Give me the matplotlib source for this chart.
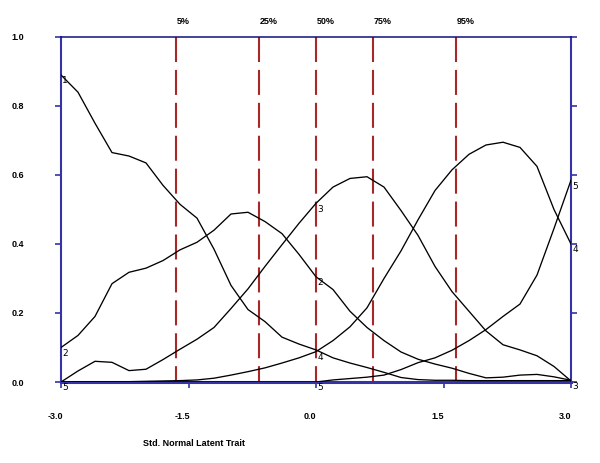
import matplotlib
matplotlib.use('Agg')
import matplotlib.pyplot as plt
import numpy as np
from matplotlib.transforms import ScaledTranslation

# ── data ──
theta = [-3.0, -2.8, -2.6, -2.4, -2.2, -2.0, -1.8, -1.6, -1.4, -1.2, -1.0,
         -0.8, -0.6, -0.4, -0.2, 0.0, 0.2, 0.4, 0.6, 0.8, 1.0,
         1.2, 1.4, 1.6, 1.8, 2.0, 2.2, 2.4, 2.6, 2.8, 3.0]

cat1 = [0.89, 0.84, 0.75, 0.665, 0.655, 0.635, 0.57, 0.515, 0.475, 0.385, 0.28,
        0.21, 0.175, 0.13, 0.11, 0.093, 0.07, 0.055, 0.042, 0.028, 0.013,
        0.007, 0.005, 0.005, 0.004, 0.004, 0.004, 0.004, 0.004, 0.004, 0.004]
cat2 = [0.10, 0.135, 0.19, 0.285, 0.318, 0.33, 0.352, 0.383, 0.405, 0.44, 0.487,
        0.492, 0.465, 0.43, 0.37, 0.305, 0.268, 0.205, 0.158, 0.12, 0.087,
        0.066, 0.052, 0.04, 0.025, 0.012, 0.014, 0.02, 0.022, 0.015, 0.005]
cat3 = [0.0, 0.032, 0.06, 0.057, 0.033, 0.037, 0.065, 0.095, 0.124, 0.158, 0.213,
        0.27, 0.335, 0.398, 0.46, 0.518, 0.565, 0.59, 0.595, 0.565, 0.497,
        0.425, 0.335, 0.262, 0.205, 0.148, 0.108, 0.093, 0.076, 0.045, 0.003]
cat4 = [0.0, 0.0, 0.0, 0.0, 0.001, 0.002, 0.003, 0.004, 0.006, 0.011, 0.02,
        0.03, 0.041, 0.055, 0.07, 0.088, 0.12, 0.16, 0.215, 0.30, 0.38,
        0.47, 0.555, 0.615, 0.66, 0.687, 0.695, 0.68, 0.625, 0.50, 0.40]
cat5 = [0.0, 0.0, 0.0, 0.0, 0.0, 0.0, 0.0, 0.0, 0.0, 0.0, 0.0,
        0.0, 0.0, 0.0, 0.0, 0.0, 0.006, 0.01, 0.014, 0.02, 0.036,
        0.056, 0.07, 0.092, 0.12, 0.152, 0.19, 0.226, 0.31, 0.445, 0.585]
cat_names = ['1', '2', '3', '4', '5']
# where each curve carries its number (only the visible ones)
label_at = [[-3.0], [-3.0, 0.0], [0.0, 3.0], [0.0, 3.0], [-3.0, 0.0, 3.0]]

quant_labels = ['5%', '25%', '50%', '75%', '95%']
quant_pos = [-1.645, -0.674, 0.0, 0.674, 1.645]

xticks = [-3.0, -1.5, 0.0, 1.5, 3.0]
xtick_labels = ['-3.0', '-1.5', '0.0', '1.5', '3.0']
yticks = [0.0, 0.2, 0.4, 0.6, 0.8, 1.0]
ytick_labels = ['0.0', '0.2', '0.4', '0.6', '0.8', '1.0']

BLUE = '#3434a8'
NAVY = '#10107e'
RED = '#a82828'
TICKFONT = dict(family='Liberation Sans', weight='bold', size=6.5)

fig = plt.figure(figsize=(6.0, 4.63), dpi=100, facecolor='white')
ax = fig.add_axes([61/600, 81/463, 510/600, 345/463])

# quantile markers
for q, lab in zip(quant_pos, quant_labels):
    ax.plot([q, q], [1.0, 0.0], color=RED, lw=1.5, dashes=(12, 3.8), zorder=1)
    ax.annotate(lab, xy=(q, 1.0), xycoords=('data', 'axes fraction'),
                xytext=(0.5, 11), textcoords='offset points',
                ha='left', va='center', **TICKFONT)

# category response curves
curves = [cat1, cat2, cat3, cat4, cat5]
for ys in curves:
    ax.plot(theta, ys, color='black', lw=0.95, zorder=3)

for name, ys, xs in zip(cat_names, curves, label_at):
    for xl in xs:
        yl = np.interp(xl, theta, ys)
        ax.annotate(name, xy=(xl, yl), xytext=(1, -1), textcoords='offset points',
                    ha='left', va='top', fontsize=6.5, family='DejaVu Sans',
                    annotation_clip=False, zorder=5)

ax.set_xlim(-3.0, 3.0)
ax.set_ylim(0.0, 1.0)

ax.spines['left'].set_color(BLUE)
ax.spines['left'].set_linewidth(1.5)
ax.spines['right'].set_color(BLUE)
ax.spines['right'].set_linewidth(1.5)
ax.spines['bottom'].set_color(BLUE)
ax.spines['bottom'].set_linewidth(2.2)
ax.spines['top'].set_color(NAVY)
ax.spines['top'].set_linewidth(1.1)

ax.set_xticks(xticks)
ax.set_xticklabels(xtick_labels, fontdict=TICKFONT)
ax.set_yticks(yticks)
ax.set_yticklabels(ytick_labels, fontdict=TICKFONT)
ax.tick_params(axis='x', direction='out', length=4.3, width=1.2, color=BLUE, pad=17)
ax.tick_params(axis='y', direction='out', length=4.3, width=1.2, color=BLUE, pad=22,
               right=True)
off = ScaledTranslation(-6/100, 0, fig.dpi_scale_trans)
for t in ax.get_xticklabels():
    t.set_transform(t.get_transform() + off)

fig.text(143/600, 1 - 444/463, 'Std. Normal Latent Trait', ha='left', va='center',
         **TICKFONT)

fig.savefig('out.png', dpi=100, facecolor='white')
plt.close(fig)
